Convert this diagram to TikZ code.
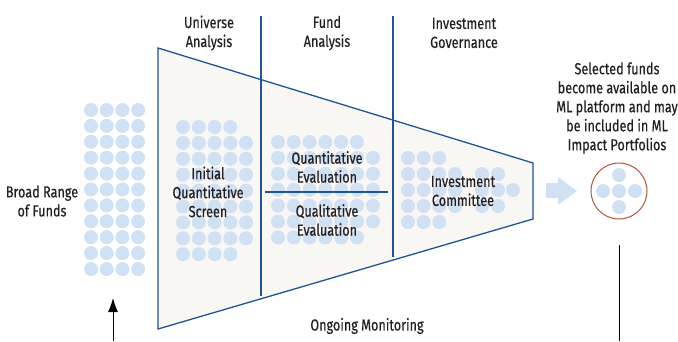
\documentclass[tikz,border=0pt]{standalone}
\usepackage{fontspec}
\setmainfont{Fira Sans}[FakeStretch=0.79, FakeBold=0.4]
\usepackage{tikz}
\usetikzlibrary{arrows.meta}

\definecolor{bleufonce}{HTML}{1F5496}
\definecolor{bleupoint}{HTML}{CFE1F3}
\definecolor{gristrap}{HTML}{F8F7F3}
\definecolor{brique}{HTML}{B5533C}
\definecolor{texte}{HTML}{231F20}

\tikzset{
  etiquette/.style={align=center, text=texte, inner sep=0pt,
    font=\fontsize{16}{19}\selectfont},
  trait/.style={draw=bleufonce, line width=1.3pt},
}

\begin{document}
\begin{tikzpicture}[x=1pt, y=-1pt]
    \useasboundingbox (0, 0) rectangle (678, 341);

    % entonnoir
    \draw[trait, fill=gristrap] (158, 48) -- (533, 163) -- (533, 219) -- (158, 329) -- cycle;

    % points de depart
    \foreach \i in {0,...,3}
      \foreach \j in {0,...,10}
        \fill[bleupoint] (91+15.7*\i, 110+15.9*\j) circle (7pt);

    % filtre initial
    \foreach \i in {0,...,3}
      \foreach \j in {0,...,8}
        \fill[bleupoint] (183+15.8*\i, 127+15.9*\j) circle (7pt);
    \foreach \j in {1,...,7}
      \fill[bleupoint] (246, 127+15.9*\j) circle (7pt);

    % analyse des fonds
    \foreach \i in {0,...,5}
      \foreach \j in {0,...,6}
        \fill[bleupoint] (278+15.8*\i, 142+15.9*\j) circle (7pt);
    \foreach \j in {1,...,5}
      \fill[bleupoint] (373, 142+15.9*\j) circle (7pt);

    % comite
    \foreach \i in {0,...,2}
      \foreach \j in {0,...,4}
        \fill[bleupoint] (408+15.7*\i, 158+16*\j) circle (7pt);
    \foreach \j in {1,...,3}
      \fill[bleupoint] (455, 158+16*\j) circle (7pt);
    \foreach \j in {1,...,3}
      \fill[bleupoint] (482, 158+16*\j) circle (7pt);
    \foreach \j in {1,...,3}
      \fill[bleupoint] (498, 158+16*\j) circle (7pt);
    \fill[bleupoint] (513, 190) circle (7pt);

    % separations
    \draw[trait] (261, 16) -- (261, 296);
    \draw[trait] (393, 16) -- (393, 257);
    \draw[trait] (265, 192) -- (388, 192);

    % fleche vers la selection
    \fill[bleupoint] (546, 183) -- (558, 183) -- (558, 177) -- (577, 191)
      -- (558, 205) -- (558, 198) -- (546, 198) -- cycle;

    % selection
    \node[circle, draw=brique, line width=1pt, minimum size=56pt, inner sep=0pt] (selection) at (619, 191) {};
    \fill[bleupoint] (selection.center) circle (7pt);
    \fill[bleupoint] (603, 191) circle (7pt);
    \fill[bleupoint] (635, 191) circle (7pt);
    \fill[bleupoint] (619, 175) circle (7pt);
    \fill[bleupoint] (619, 207) circle (7pt);

    % textes
    \node[etiquette] (univers) at (209, 33) {Universe\\Analysis};
    \node[etiquette] (fonds) at (327, 33) {Fund\\Analysis};
    \node[etiquette] (gouvernance) at (464, 33) {Investment\\Governance};
    \node[etiquette] (gamme) at (42, 201) {Broad Range\\of Funds};
    \node[etiquette] (filtre) at (208, 192) {Initial\\Quantitative\\Screen};
    \node[etiquette] (quanti) at (327, 167) {Quantitative\\Evaluation};
    \node[etiquette] (quali) at (327, 220) {Qualitative\\Evaluation};
    \node[etiquette] (comite) at (463, 191) {Investment\\Committee};
    \node[etiquette] (suivi) at (367, 326) {Ongoing Monitoring};
    \node[etiquette] (resultat) at (617, 108) {Selected funds\\become available on\\ML platform and may\\be included in ML\\Impact Portfolios};

    % retour du suivi
    \coordinate (basgauche) at (113, 341);
    \coordinate (hautgauche) at (113, 298);
    \coordinate (hautdroite) at (619, 245);
    \coordinate (basdroite) at (619, 341);
    \draw[line width=1pt, -{Latex[length=14pt, width=10pt]}] (basgauche) -- (hautgauche);
    \draw[line width=1pt] (hautdroite) -- (basdroite);

  \end{tikzpicture}
\end{document}
